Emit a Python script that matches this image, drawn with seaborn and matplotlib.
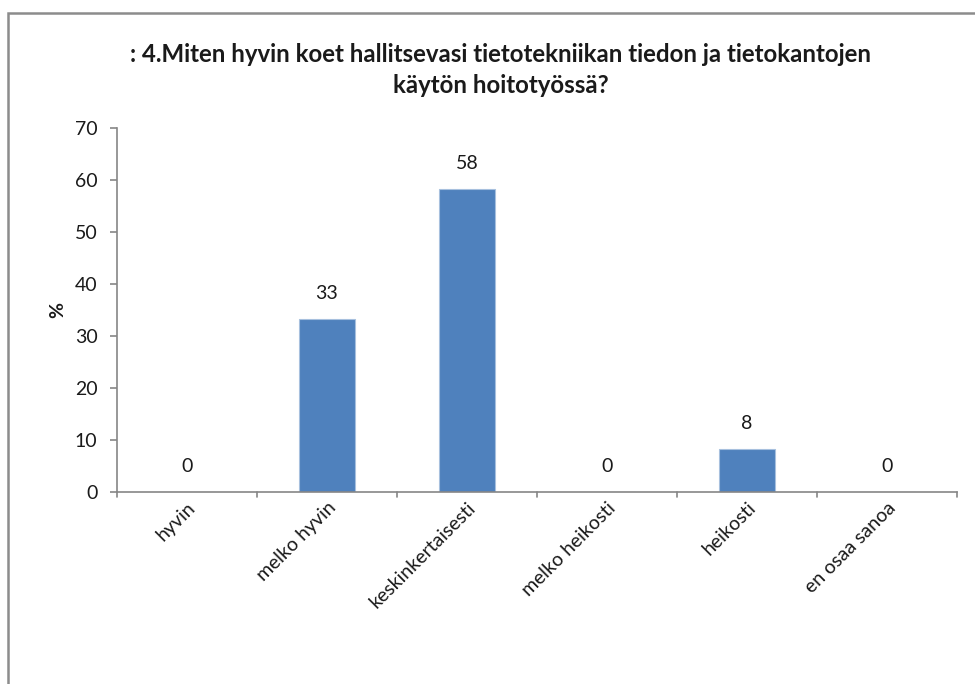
import matplotlib
matplotlib.use("Agg")
import matplotlib.pyplot as plt
import seaborn as sns
import pandas as pd
from matplotlib.patches import Rectangle

categories = ["hyvin", "melko hyvin", "keskinkertaisesti", "melko heikosti", "heikosti", "en osaa sanoa"]
percentages = [0, 33.3, 58.3, 0, 8.3, 0]
yticks = [0, 10, 20, 30, 40, 50, 60, 70]
title = ": 4.Miten hyvin koet hallitsevasi tietotekniikan tiedon ja tietokantojen\nkäytön hoitotyössä?"

df = pd.DataFrame({"vastaus": categories, "osuus": percentages})

sns.set_theme(style="white")
plt.rcParams["font.family"] = ["Lato", "DejaVu Sans"]

fig = plt.figure(figsize=(9.75, 6.84), dpi=100)
ax = fig.add_axes([117 / 975, 1 - 492 / 684, (957 - 117) / 975, (492 - 128) / 684])

sns.barplot(data=df, x="vastaus", y="osuus", color="#4F81BD", saturation=1,
            width=0.4, ax=ax, edgecolor="#A7C0DE", linewidth=0.8)

axis_grey = "#868686"
text_col = "#1a1a1a"
ax.set_xlim(-0.5, len(categories) - 0.5)
ax.set_ylim(0, 70)
ax.set_yticks(yticks)
ax.set_yticklabels([str(t) for t in yticks], fontsize=14, color=text_col)
ax.set_xticks(range(len(categories)))
ax.set_xticklabels(categories, rotation=45, ha="right", rotation_mode="anchor",
                   fontsize=14, color=text_col)
ax.tick_params(axis="x", length=0, pad=5)
ax.tick_params(axis="y", length=5, width=1.2, color=axis_grey, direction="out", left=True, pad=9)

# category boundary tick marks on the x axis
for b in [i - 0.5 for i in range(len(categories) + 1)]:
    ax.plot([b, b], [0, -1.0], color=axis_grey, lw=1.2, clip_on=False,
            transform=ax.transData)

for side in ["top", "right"]:
    ax.spines[side].set_visible(False)
for side in ["left", "bottom"]:
    ax.spines[side].set_color(axis_grey)
    ax.spines[side].set_linewidth(1.2)

ax.set_xlabel("")
ax.set_ylabel("%", fontsize=14, fontweight="bold", labelpad=6, color=text_col)

# value labels above each bar
for i, v in enumerate(percentages):
    ax.annotate(f"{v:.0f}", (i, v), xytext=(0, 25), textcoords="offset pixels",
                ha="center", va="center", fontsize=14, color=text_col)

fig.text(501 / 975, 1 - 70 / 684, title, ha="center", va="center", fontsize=17.3,
         fontweight="bold", linespacing=1.45, color=text_col)

# chart frame
fig.patches.append(Rectangle((8 / 975, -0.05), 1.0, 1 - 13 / 684 + 0.05,
                             transform=fig.transFigure, fill=False,
                             edgecolor="#8c8c8c", linewidth=1.8))

fig.savefig("out.png", dpi=100)
